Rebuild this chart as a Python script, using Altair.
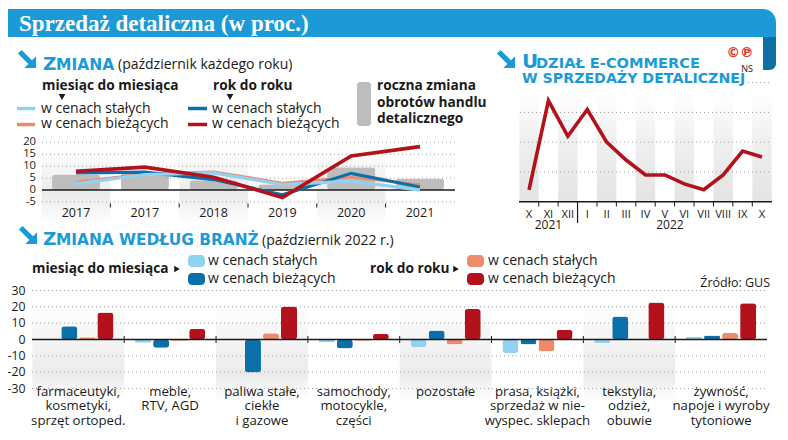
import altair as alt
import pandas as pd

# ---------------- data ----------------
year_keys = ["2017a", "2017b", "2018", "2019", "2020", "2021"]
year_labels = ["2017", "2017", "2018", "2019", "2020", "2021"]
annual_change = [6.5, 7.2, 4.1, 2.4, 9.6, 4.8]
mm_const_top = [2.6, 6.5, 7.2, 2.3, 3.7, 0.0]
mm_curr_top = [3.4, 6.8, 7.7, 3.0, 5.4, 2.3]
yy_const_top = [7.2, 7.5, 4.4, -2.0, 7.0, 1.3]
yy_curr_top = [7.9, 9.6, 5.4, -3.1, 14.3, 18.2]
top_y_ticks = [-5, 5, 10, 15, 20]
top_y_labels = ["-5", "0", "5", "10", "15", "20"]
top_y_label_vals = [-5, 0, 5, 10, 15, 20]

ecom_keys = ["X21", "XI21", "XII21", "I22", "II22", "III22", "IV22", "V22",
             "VI22", "VII22", "VIII22", "IX22", "X22"]
ecom_labels = ["X", "XI", "XII", "I", "II", "III", "IV", "V", "VI", "VII",
               "VIII", "IX", "X"]
ecom_share = [6.4, 9.4, 8.2, 9.1, 8.0, 7.4, 6.9, 6.9, 6.6, 6.4, 6.9, 7.7, 7.5]
ecom_grid = [7, 8, 9, 10]

branch_labels = [
    "farmaceutyki,\nkosmetyki,\nsprzęt ortoped.",
    "meble,\nRTV, AGD",
    "paliwa stałe,\nciekłe\ni gazowe",
    "samochody,\nmotocykle,\nczęści",
    "pozostałe",
    "prasa, książki,\nsprzedaż w nie-\nwyspec. sklepach",
    "tekstylia,\nodzież,\nobuwie",
    "żywność,\nnapoje i wyroby\ntytoniowe",
]
mm_const_b = [0.0, -2.0, 0.2, -1.6, -4.6, -8.3, -2.2, 1.6]
mm_curr_b = [8.1, -5.0, -20.2, -5.5, 5.5, -3.0, 14.1, 2.4]
yy_const_b = [1.4, -0.8, 3.8, -0.8, -3.0, -7.3, 0.0, 4.0]
yy_curr_b = [16.6, 6.5, 20.2, 3.4, 18.6, 5.9, 22.6, 22.2]
bottom_y_ticks = [-30, -20, -10, 10, 20, 30]
bottom_y_label_vals = [-30, -20, -10, 0, 10, 20, 30]

# ---------------- style ----------------
SANS = "Open Sans"
CAPS = "DejaVu Sans"
SERIF = "Liberation Serif"
BLUE = "#1b9ad7"
DARKTXT = "#1a1a1a"
C_LB = "#92d2f1"
C_DB = "#0b70aa"
C_SA = "#ee8b6d"
C_DR = "#b3111c"
C_GR = "#bdbdbd"
GRID = "#9c9c9c"
OX, OY = 8, 8
LEG = 14


def X(v):
    return alt.value(v - OX)


def Y(v):
    return alt.value(v - OY)


one = pd.DataFrame({"d": [0]})


def text(s, x, y, size, color=DARKTXT, weight="normal", font=SANS,
         align="left", baseline="alphabetic"):
    return alt.Chart(one).mark_text(
        text=s, fontSize=size, color=color, fontWeight=weight, font=font,
        align=align, baseline=baseline
    ).encode(x=X(x), y=Y(y))


def rect(x1, x2, y1, y2, color, **kw):
    return alt.Chart(one).mark_rect(color=color, **kw).encode(
        x=X(x1), x2=X(x2), y=Y(y1), y2=Y(y2))


def hline(x1, x2, y, color, width):
    return alt.Chart(one).mark_rule(color=color, strokeWidth=width).encode(
        x=X(x1), x2=X(x2), y=Y(y))


ARROW = "M-1,-0.6L0.15,0.55L-0.3,1L1,1L1,-0.3L0.55,0.15L-0.6,-1Z"


def arrow(cx, cy):
    return alt.Chart(one).mark_point(
        shape=ARROW, filled=True, color=BLUE, size=330, opacity=1
    ).encode(x=X(cx), y=Y(cy))


def grad(c_top, c_mid, c_bot, mid=0.55):
    return {"gradient": "linear", "x1": 0, "y1": 0, "x2": 0, "y2": 1,
            "stops": [{"offset": 0, "color": c_top},
                      {"offset": mid, "color": c_mid},
                      {"offset": 1, "color": c_bot}]}


layers = []

# ---------------- header ----------------
layers.append(rect(763, 776, 30, 70, "#0d6fa6", cornerRadiusBottomRight=7))
layers.append(rect(8, 776, 9, 37, BLUE, cornerRadiusTopRight=13))
layers.append(text("Sprzedaż detaliczna (w proc.)", 19, 30.5, 23,
                   color="white", weight="bold", font=SERIF))

# ---------------- top-left: ZMIANA ----------------
layers.append(arrow(27, 59))
layers.append(text("Z", 43, 70, 18.5, color=BLUE, weight="bold", font=CAPS))
layers.append(text("MIANA", 56, 70, 15.5, color=BLUE, weight="bold", font=CAPS))
layers.append(text("(październik każdego roku)", 118, 68.5, LEG))

layers.append(text("miesiąc do miesiąca", 42, 90, 13.7, weight="bold"))
layers.append(text("rok do roku", 213, 90, 13.7, weight="bold"))
tri = pd.DataFrame({"d": [0]})
for tx in (62, 230):
    layers.append(alt.Chart(tri).mark_point(
        shape="triangle-down", filled=True, color=DARKTXT, size=45, opacity=1
    ).encode(x=X(tx), y=Y(97)))
layers.append(hline(17, 35, 108.5, C_LB, 3.5))
layers.append(hline(17, 35, 124.5, C_SA, 3.5))
layers.append(hline(188, 207, 108.5, C_DB, 3.5))
layers.append(hline(188, 207, 124.5, C_DR, 3.5))
layers.append(text("w cenach stałych", 41, 112.7, LEG))
layers.append(text("w cenach bieżących", 41, 128, LEG))
layers.append(text("w cenach stałych", 212, 112.7, LEG))
layers.append(text("w cenach bieżących", 212, 128, LEG))
layers.append(rect(357, 371, 82, 126, C_GR, cornerRadius=3))
layers.append(text("roczna zmiana", 377, 90, 13.7, weight="bold"))
layers.append(text("obrotów handlu", 377, 106.5, 13.7, weight="bold"))
layers.append(text("detalicznego", 377, 123, 13.7, weight="bold"))

df_top = pd.DataFrame({
    "key": year_keys, "label": year_labels, "annual": annual_change,
    "mmc": mm_const_top, "mmb": mm_curr_top, "yyc": yy_const_top,
    "yyb": yy_curr_top, "idx": list(range(len(year_keys))),
})
xs_tl = alt.Scale(domain=year_keys, range=[41.6 - OX, 454.4 - OX],
                  paddingInner=0, paddingOuter=0)
ys_tl = alt.Scale(domain=[-5, 20], range=[202 - OY, 142.3 - OY])
x_tl = alt.X("key:N", scale=xs_tl, axis=None)

layers.append(alt.Chart(df_top[df_top.idx % 2 == 0]).mark_rect(
    fill=grad("#ffffff", "#ebebeb", "#ffffff", 0.6)
).encode(x=x_tl, y=Y(148), y2=Y(224)))

df_tgrid = pd.DataFrame({"v": top_y_ticks})
layers.append(alt.Chart(df_tgrid).mark_rule(
    color=GRID, strokeDash=[1, 3], strokeWidth=1
).encode(y=alt.Y("v:Q", scale=ys_tl, axis=None), x=X(42), x2=X(455)))
df_tlab = pd.DataFrame({"v": top_y_label_vals, "t": top_y_labels})
layers.append(alt.Chart(df_tlab).mark_text(
    align="right", baseline="middle", fontSize=11.2, font=SANS, color=DARKTXT
).encode(y=alt.Y("v:Q", scale=ys_tl, axis=None), x=X(36), text="t:N"))

layers.append(alt.Chart(df_top).mark_bar(
    color=C_GR, cornerRadius=3, width=alt.RelativeBandSize(0.7)
).encode(x=x_tl, y=alt.Y("annual:Q", scale=ys_tl, axis=None)))

layers.append(alt.Chart(pd.DataFrame({"v": [0]})).mark_rule(
    color=DARKTXT, strokeWidth=1.5
).encode(y=alt.Y("v:Q", scale=ys_tl, axis=None), x=X(42), x2=X(455)))

for col, colr, w in (("mmb", C_SA, 2.5), ("yyc", C_DB, 3.2),
                     ("mmc", C_LB, 3.2), ("yyb", C_DR, 3.6)):
    layers.append(alt.Chart(df_top).mark_line(
        color=colr, strokeWidth=w, strokeJoin="miter"
    ).encode(x=x_tl, y=alt.Y(f"{col}:Q", scale=ys_tl, axis=None),
             order=alt.Order("idx:Q")))

layers.append(alt.Chart(df_top[df_top.idx > 0]).mark_rule(
    color=DARKTXT, strokeWidth=1
).encode(x=alt.X("key:N", scale=xs_tl, axis=None, bandPosition=0),
         y=Y(203.5), y2=Y(207.5)))
layers.append(alt.Chart(df_top).mark_text(
    align="center", baseline="alphabetic", fontSize=12.5, font=SANS,
    color=DARKTXT
).encode(x=x_tl, y=Y(216.5), text="label:N"))

# ---------------- top-right: e-commerce ----------------
df_ec = pd.DataFrame({"key": ecom_keys, "label": ecom_labels,
                      "v": ecom_share, "idx": list(range(len(ecom_keys)))})
xs_ec = alt.Scale(domain=ecom_keys, range=[519.3 - OX, 771.7 - OX],
                  paddingInner=0, paddingOuter=0)
ys_ec = alt.Scale(domain=[6, 10], range=[201.7 - OY, 82.7 - OY])
x_ec = alt.X("key:N", scale=xs_ec, axis=None)

layers.append(alt.Chart(df_ec[df_ec.idx % 2 == 0]).mark_rect(
    fill=grad("#ffffff", "#eeeeee", "#e4e4e4", 0.5)
).encode(x=x_ec, y=Y(92), y2=Y(201)))
layers.append(alt.Chart(pd.DataFrame({"v": ecom_grid})).mark_rule(
    color=GRID, strokeDash=[1, 3], strokeWidth=1
).encode(y=alt.Y("v:Q", scale=ys_ec, axis=None), x=X(520), x2=X(772)))
layers.append(rect(515, 747, 70, 87, "white"))
layers.append(arrow(506, 59))
layers.append(text("U", 522, 68.3, 20, color=BLUE, weight="bold", font=CAPS))
layers.append(text("DZIAŁ E-COMMERCE", 536, 68.3, 14.6, color=BLUE,
                   weight="bold", font=CAPS))
layers.append(text("W SPRZEDAŻY DETALICZNEJ", 522, 83, 14.2, color=BLUE,
                   weight="bold", font=CAPS))
layers.append(text("©℗", 740, 57, 13.5, color="#e0342b", weight="bold",
                   font=CAPS, align="center"))
layers.append(text("NS", 747, 72, 9, color=DARKTXT, font=SANS,
                   align="center"))

layers.append(alt.Chart(pd.DataFrame({"v": [6]})).mark_rule(
    color=DARKTXT, strokeWidth=1.5
).encode(y=alt.Y("v:Q", scale=ys_ec, axis=None), x=X(519), x2=X(772)))
layers.append(alt.Chart(df_ec).mark_line(
    color=C_DR, strokeWidth=3.6, strokeJoin="miter"
).encode(x=x_ec, y=alt.Y("v:Q", scale=ys_ec, axis=None),
         order=alt.Order("idx:Q")))
layers.append(alt.Chart(df_ec[(df_ec.idx > 0) & (df_ec.idx != 3)]).mark_rule(
    color=DARKTXT, strokeWidth=1
).encode(x=alt.X("key:N", scale=xs_ec, axis=None, bandPosition=0),
         y=Y(202), y2=Y(206.5)))
layers.append(alt.Chart(df_ec[df_ec.idx == 3]).mark_rule(
    color=DARKTXT, strokeWidth=1.2
).encode(x=alt.X("key:N", scale=xs_ec, axis=None, bandPosition=0),
         y=Y(202), y2=Y(223)))
layers.append(alt.Chart(df_ec).mark_text(
    align="center", baseline="alphabetic", fontSize=11.2, font=SANS,
    color=DARKTXT
).encode(x=x_ec, y=Y(217.5), text="label:N"))
df_years = pd.DataFrame({"key": ["XI21", "V22"], "t": ["2021", "2022"]})
layers.append(alt.Chart(df_years[df_years.key == "XI21"]).mark_text(
    align="center", baseline="alphabetic", fontSize=12, font=SANS,
    color=DARKTXT
).encode(x=x_ec, y=Y(229), text="t:N"))
layers.append(alt.Chart(df_years[df_years.key == "V22"]).mark_text(
    align="center", baseline="alphabetic", fontSize=12, font=SANS,
    color=DARKTXT, dx=5
).encode(x=x_ec, y=Y(229), text="t:N"))

# ---------------- bottom: ZMIANA WEDŁUG BRANŻ ----------------
layers.append(arrow(28, 235))
layers.append(text("Z", 43, 245, 18.5, color=BLUE, weight="bold", font=CAPS))
layers.append(text("MIANA WEDŁUG BRANŻ", 56, 245, 15.4, color=BLUE,
                   weight="bold", font=CAPS))
layers.append(text("(październik 2022 r.)", 262, 244.5, LEG))

layers.append(text("miesiąc do miesiąca", 32, 273, 13.7, weight="bold"))
layers.append(text("rok do roku", 370, 273, 13.7, weight="bold"))
for tx in (177, 456):
    layers.append(alt.Chart(tri).mark_point(
        shape="triangle-right", filled=True, color=DARKTXT, size=40, opacity=1
    ).encode(x=X(tx), y=Y(269)))
layers.append(rect(188, 205, 255, 267, C_LB, cornerRadius=4))
layers.append(rect(188, 205, 273, 285, C_DB, cornerRadius=4))
layers.append(rect(467, 484, 255, 267, C_SA, cornerRadius=4))
layers.append(rect(467, 484, 273, 285, C_DR, cornerRadius=4))
layers.append(text("w cenach stałych", 208, 265, LEG))
layers.append(text("w cenach bieżących", 208, 283, LEG))
layers.append(text("w cenach stałych", 488, 265, LEG))
layers.append(text("w cenach bieżących", 488, 283, LEG))
layers.append(text("Źródło: GUS", 770, 287, 12.5, align="right"))

df_b = pd.DataFrame({"key": branch_labels, "idx": list(range(len(branch_labels)))})
xs_b = alt.Scale(domain=branch_labels, range=[32.4 - OX, 767 - OX],
                 paddingInner=0, paddingOuter=0)
ys_b = alt.Scale(domain=[-30, 30], range=[388.5 - OY, 290.5 - OY])
x_b = alt.X("key:N", scale=xs_b, axis=None)

layers.append(alt.Chart(df_b[df_b.idx % 2 == 0]).mark_rect(
    fill=grad("#ffffff", "#ebebeb", "#ffffff", 0.72)
).encode(x=x_b, y=Y(302), y2=Y(402)))
layers.append(alt.Chart(pd.DataFrame({"v": bottom_y_ticks})).mark_rule(
    color=GRID, strokeDash=[1, 3], strokeWidth=1
).encode(y=alt.Y("v:Q", scale=ys_b, axis=None), x=X(32), x2=X(767)))
layers.append(alt.Chart(pd.DataFrame({"v": bottom_y_label_vals,
                                      "t": [str(v) for v in bottom_y_label_vals]})
                        ).mark_text(
    align="right", baseline="middle", fontSize=12.3, font=SANS, color=DARKTXT
).encode(y=alt.Y("v:Q", scale=ys_b, axis=None), x=X(25.5), text="t:N"))

series_keys = ["ms", "mb", "rs", "rb"]
series_colors = [C_LB, C_DB, C_SA, C_DR]
rows = []
for i, k in enumerate(branch_labels):
    for s, vals in zip(series_keys, (mm_const_b, mm_curr_b, yy_const_b, yy_curr_b)):
        rows.append({"key": k, "s": s, "v": vals[i]})
df_bars = pd.DataFrame(rows)
layers.append(alt.Chart(df_bars).mark_bar(cornerRadius=3).encode(
    x=x_b,
    xOffset=alt.XOffset("s:N", scale=alt.Scale(domain=series_keys,
                                               paddingInner=0.11,
                                               paddingOuter=0.6)),
    y=alt.Y("v:Q", scale=ys_b, axis=None),
    color=alt.Color("s:N", scale=alt.Scale(domain=series_keys,
                                           range=series_colors), legend=None),
))
layers.append(alt.Chart(pd.DataFrame({"v": [0]})).mark_rule(
    color=DARKTXT, strokeWidth=1.5
).encode(y=alt.Y("v:Q", scale=ys_b, axis=None), x=X(32), x2=X(767)))
layers.append(alt.Chart(df_b[df_b.idx > 0]).mark_rule(
    color=DARKTXT, strokeWidth=1
).encode(x=alt.X("key:N", scale=xs_b, axis=None, bandPosition=0),
         y=Y(336), y2=Y(343)))
layers.append(alt.Chart(df_b).mark_text(
    align="center", baseline="top", fontSize=13.2, font=SANS, color=DARKTXT,
    lineBreak="\n", lineHeight=14.6
).encode(x=x_b, y=Y(385.5), text="key:N"))

chart = alt.layer(*layers).resolve_scale(
    x="independent", y="independent", color="independent"
).properties(
    width=772, height=424, padding=0,
    autosize=alt.AutoSizeParams(type="none"),
).configure_view(stroke=None)

chart.save("out.html", embed_options={"renderer": "svg", "actions": False})
